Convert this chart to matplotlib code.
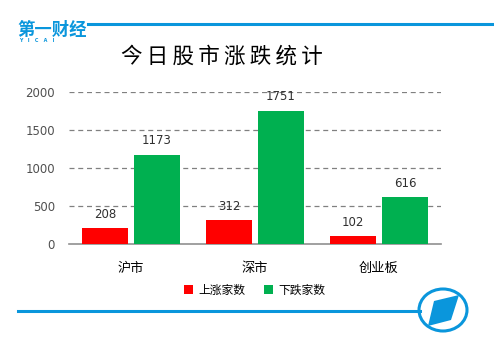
import matplotlib
matplotlib.use("Agg")
import matplotlib.pyplot as plt
from matplotlib.patches import Ellipse, Polygon
import numpy as np

plt.rcParams['font.family'] = ['Noto Sans CJK SC', 'DejaVu Sans']

categories = ["沪市", "深市", "创业板"]
rise = [208, 312, 102]
fall = [1173, 1751, 616]
series_names = ["上涨家数", "下跌家数"]
yticks = [0, 500, 1000, 1500, 2000]

RED = "#FF0000"
GREEN = "#00B050"
BLUE = "#0A96DC"

fig = plt.figure(figsize=(4.94, 3.47), dpi=100)
W, H = 494, 347

ax = fig.add_axes([69 / W, 1 - 244 / H, 372 / W, 152 / H])
x = np.arange(len(categories))
bw = 0.365
off = 0.21
b1 = ax.bar(x - off, rise, bw, color=RED, label=series_names[0], zorder=3)
b2 = ax.bar(x + off, fall, bw, color=GREEN, label=series_names[1], zorder=3)

for bars, vals in ((b1, rise), (b2, fall)):
    for r, v in zip(bars, vals):
        ax.annotate(str(v), (r.get_x() + r.get_width() / 2, v),
                    xytext=(0, 5.5), textcoords="offset points",
                    ha="center", va="bottom", fontsize=8.5,
                    color="#303030", family="DejaVu Sans", zorder=4)

ax.set_xlim(-0.5, 2.5)
ax.set_ylim(0, 2000)
ax.set_yticks(yticks)
ax.set_yticklabels([str(t) for t in yticks], color="#505050", fontsize=8.5,
                   family="DejaVu Sans")
ax.set_xticks(x)
ax.set_xticklabels(categories, fontsize=9.5, color="black")
ax.tick_params(axis="both", length=0)
ax.tick_params(axis="y", pad=10)
ax.tick_params(axis="x", pad=13)
for s in ("top", "right", "left"):
    ax.spines[s].set_visible(False)
ax.spines["bottom"].set_color("#909090")
ax.spines["bottom"].set_linewidth(1.2)
ax.yaxis.grid(True, linestyle=(0, (4, 3)), color="#808080", linewidth=0.9, zorder=0)
for line in ax.yaxis.get_gridlines()[:1]:
    line.set_visible(False)

leg = ax.legend(loc="upper center", bbox_to_anchor=(0.5, -0.19), ncol=2,
                frameon=False, fontsize=8.5, handlelength=0.7, handleheight=0.7,
                handletextpad=0.5, columnspacing=1.6)

# Title
fig.text(222 / W, 1 - 57 / H, "\u2009".join("今日股市涨跌统计"), ha="center",
         va="center", fontsize=15.5, color="black", fontweight="medium")

# Header logo and rule
fig.add_artist(plt.Line2D([88 / W, 1.0], [1 - 24 / H, 1 - 24 / H],
                          color=BLUE, linewidth=2.2, transform=fig.transFigure))
fig.text(17 / W, 1 - 30 / H, "第一财经", ha="left", va="center", fontsize=12.5,
         color=BLUE, fontweight="bold")
fig.text(19 / W, 1 - 41 / H, "Y   I   C   A   I", ha="left", va="center",
         fontsize=3.5, color=BLUE, fontweight="bold", family="DejaVu Sans")

# Footer rule and emblem
fig.add_artist(plt.Line2D([18 / W, 420 / W], [1 - 311 / H, 1 - 311 / H],
                          color=BLUE, linewidth=2.2, transform=fig.transFigure))
fig.add_artist(Ellipse((443 / W, 1 - 310 / H), 48 / W, 42 / H, fill=False,
                       edgecolor=BLUE, linewidth=2.2, transform=fig.transFigure))
pts = [(434, 301), (459, 295), (451, 320), (428, 326)]
fig.add_artist(Polygon([(px / W, 1 - py / H) for px, py in pts], closed=True,
                       facecolor=BLUE, edgecolor="none", transform=fig.transFigure))

fig.savefig("out.png", dpi=100)
